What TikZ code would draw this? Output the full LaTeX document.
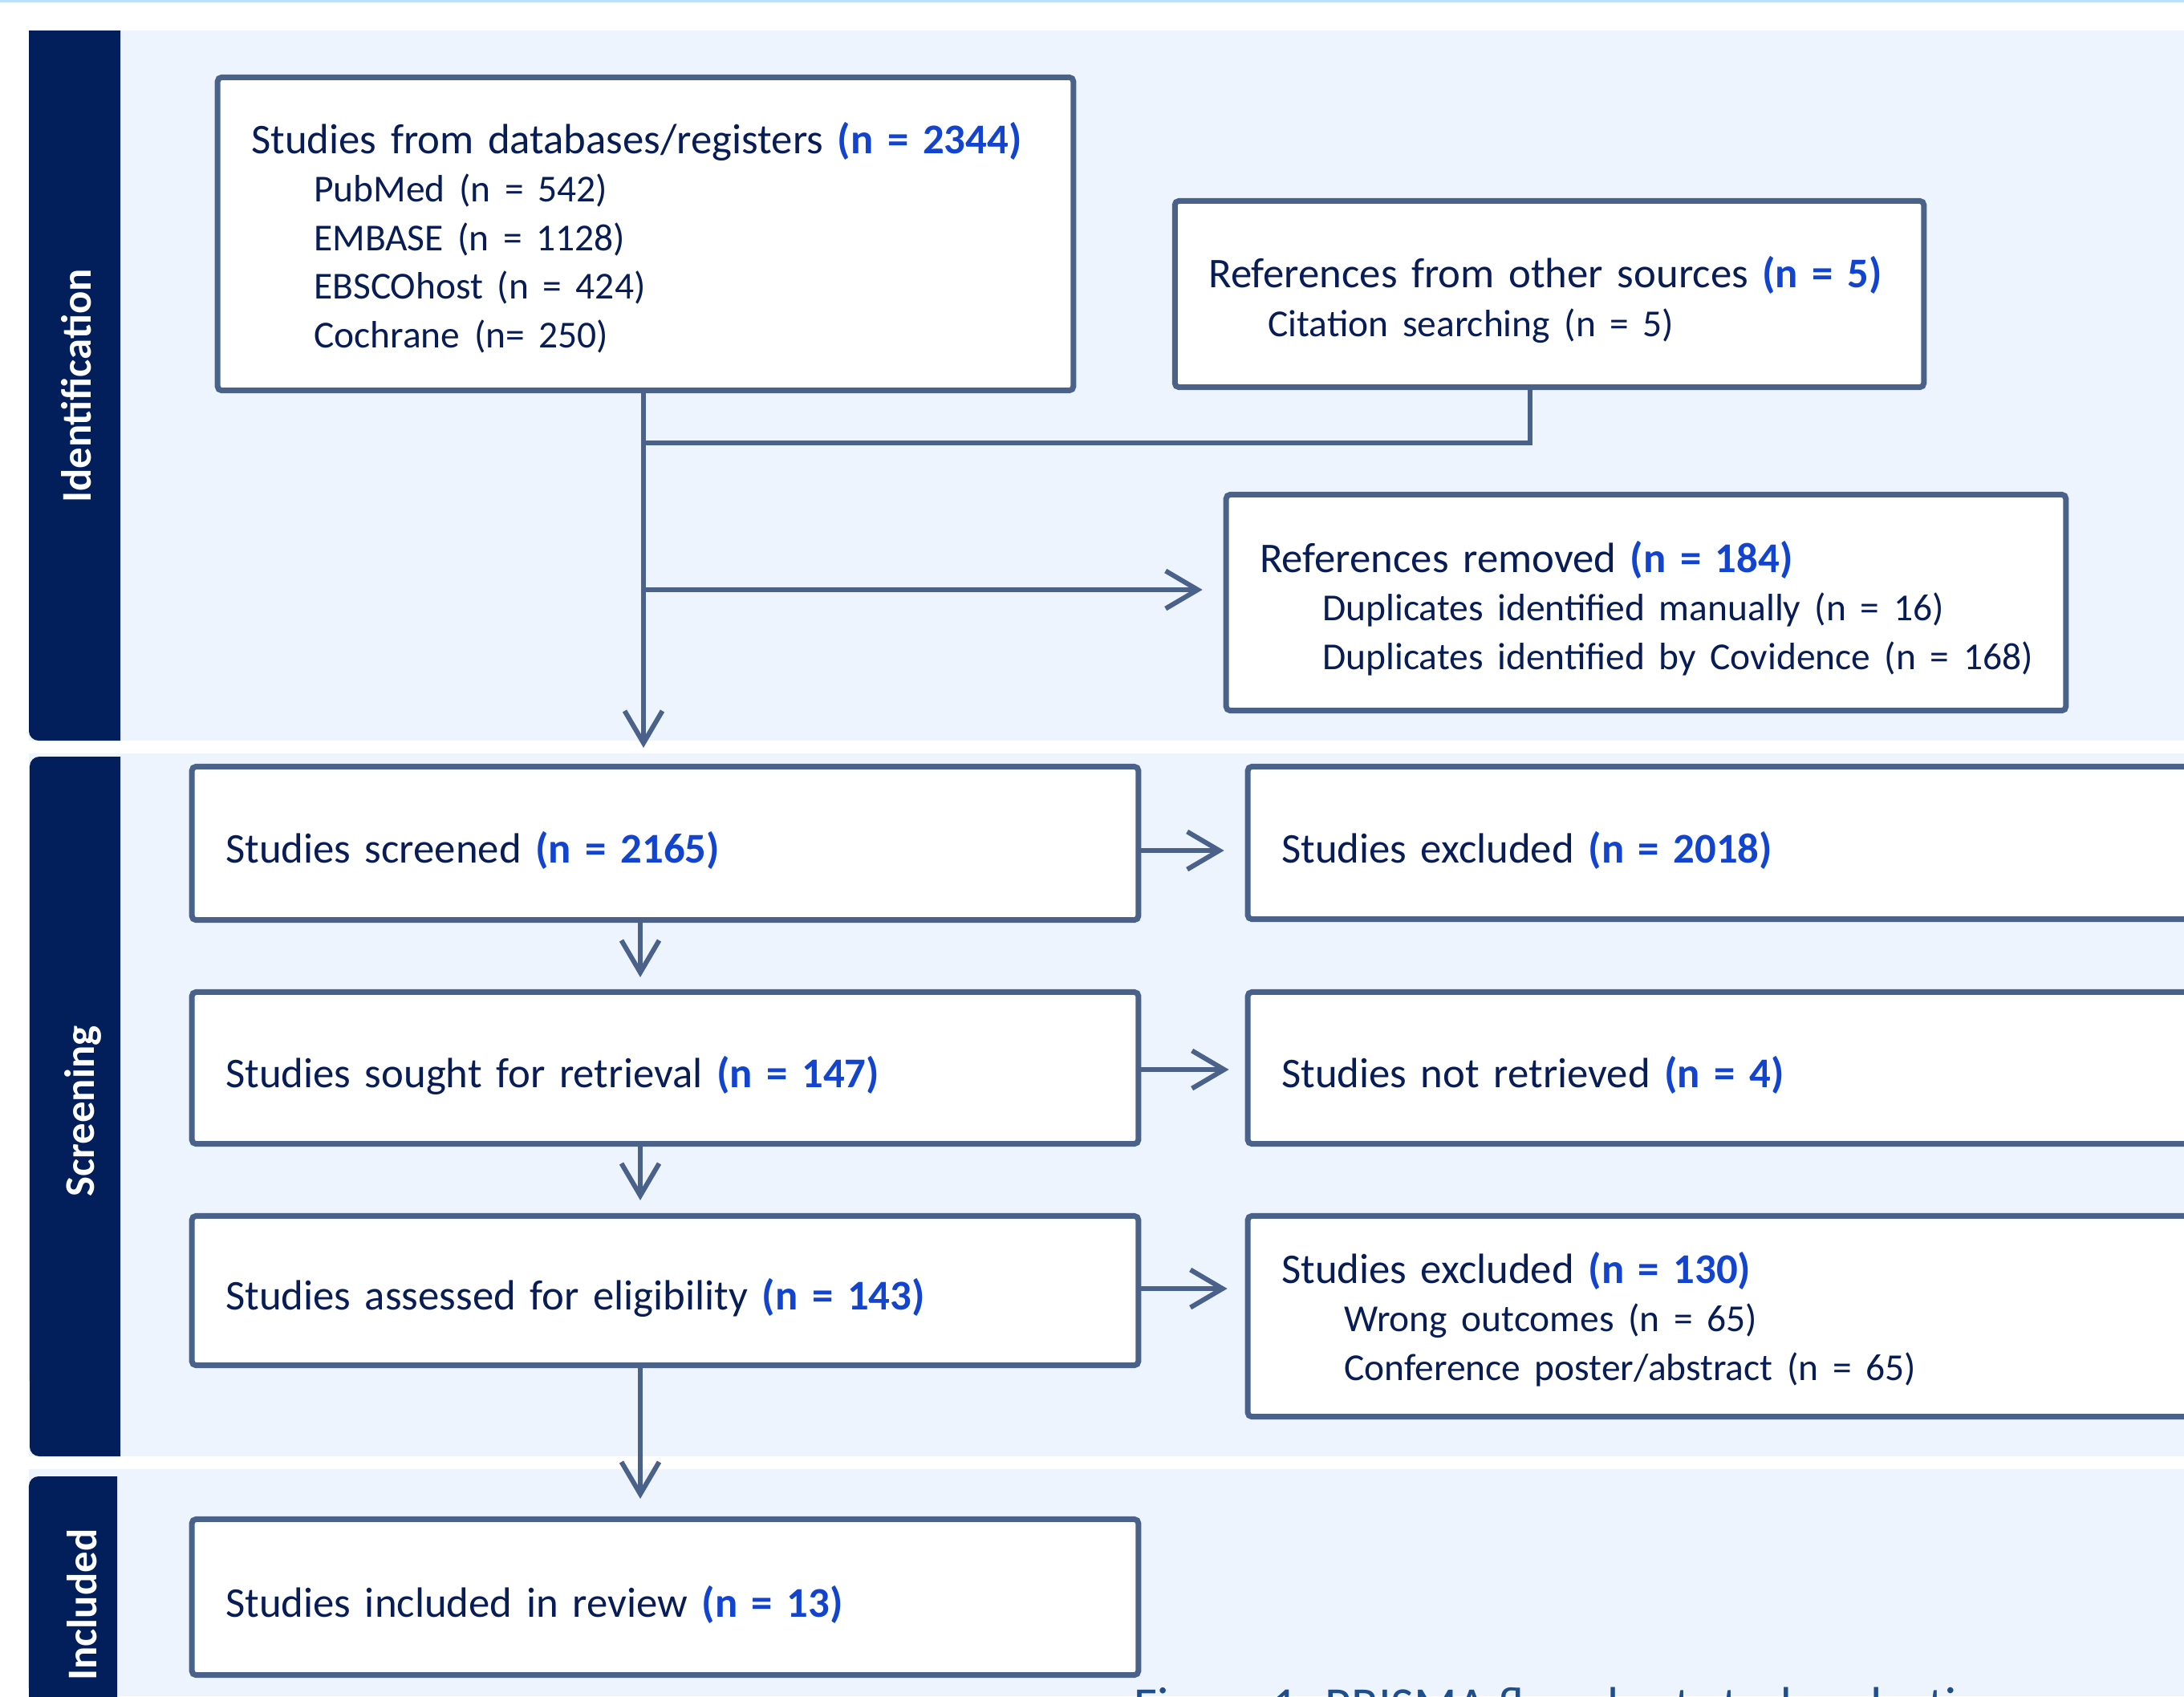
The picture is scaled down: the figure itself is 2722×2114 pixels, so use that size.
\documentclass[tikz,border=0pt]{standalone}
\usepackage{fontspec}
\setmainfont{Carlito}
\usetikzlibrary{arrows.meta}
\definecolor{navyC}{RGB}{2,31,91}
\definecolor{panelC}{RGB}{237,244,254}
\definecolor{lineC}{RGB}{74,98,137}
\definecolor{txtC}{RGB}{8,28,86}
\definecolor{nC}{RGB}{18,68,208}
\definecolor{topC}{RGB}{190,224,250}
\definecolor{capC}{RGB}{31,78,140}
\newcommand\bxfont{\fontsize{15pt}{17.2pt}\selectfont}
\newcommand\subf{\fontsize{13.5pt}{17.2pt}\selectfont}
\newcommand\nval[1]{\textcolor{nC}{\bfseries #1}}
\newcommand\ind{\hspace*{0.78cm}}
\newcommand\subline[1]{\mbox{\ind{\subf #1}}}
\newcommand\tstrut[1]{\rule{0pt}{#1}}
\begin{document}
\begin{tikzpicture}[x=0.01cm,y=-0.01cm,
  box/.style={draw=lineC, line width=0.07cm, fill=white, rounded corners=0.05cm,
    inner xsep=0.42cm, inner ysep=0pt, align=left, font=\bxfont, text=txtC},
  conn/.style={draw=lineC, line width=0.06cm},
  arr/.style={conn, -{Straight Barb[length=0.4cm,width=0.47cm]}},
  side/.style={rotate=90, text=white, font=\bxfont\bfseries, inner sep=0pt, anchor=base}
]
\useasboundingbox (0,0) rectangle (2722,2114);
\clip (0,0) rectangle (2722,2114);
\fill[white] (0,0) rectangle (2722,2114);
\fill[topC] (0,0) rectangle (2722,3);
% panels
\fill[panelC] (36,38) rectangle (2722,923);
\fill[panelC] (36,939) rectangle (2722,1815);
\fill[panelC] (36,1831) rectangle (2722,2114);
% sidebars
\fill[navyC] (150,38) -- (36,38) -- (36,911) arc[start angle=180,end angle=270,radius=0.12cm] -- (150,923) -- cycle;
\fill[navyC] (150,943) -- (49,943) arc[start angle=90,end angle=180,radius=0.12cm] -- (37,1803) arc[start angle=180,end angle=270,radius=0.12cm] -- (150,1815) -- cycle;
\fill[navyC] (146,1840) -- (48,1840) arc[start angle=90,end angle=180,radius=0.12cm] -- (36,2130) -- (146,2130) -- cycle;
\node[side] (L1) at (113,481) {Identification};
\node[side] (L2) at (117,1385) {Screening};
\node[side] (L3) at (120,2000) {Included};
% boxes
\node[box, minimum width=10.66cm, minimum height=3.90cm, text width=9.82cm] (B1) at (804.5,291.5)
  {\mbox{\tstrut{0.48cm}Studies from databases/registers \nval{(n = 2344)}}\\
   \subline{PubMed (n = 542)}\\
   \subline{EMBASE (n = 1128)}\\
   \subline{EBSCOhost (n = 424)}\\
   \subline{Cochrane (n= 250)}};
\node[box, minimum width=9.33cm, minimum height=2.32cm, text width=8.49cm] (B2) at (1931,366.5)
  {\mbox{\tstrut{0.53cm}References from other sources \nval{(n = 5)}}\\
   \mbox{\hspace*{0.74cm}{\subf Citation searching (n = 5)}}};
\node[box, minimum width=10.46cm, minimum height=2.69cm, text width=9.62cm] (B3) at (2051.5,751)
  {\mbox{\tstrut{0.53cm}References removed \nval{(n = 184)}}\\
   \subline{Duplicates identified manually (n = 16)}\\
   \subline{Duplicates identified by Covidence (n = 168)}};
\node[box, minimum width=11.79cm, minimum height=1.91cm, text width=10.95cm] (S1) at (829,1051)
  {\tstrut{0.57cm}Studies screened \nval{(n = 2165)}};
\node[box, minimum width=11.79cm, minimum height=1.89cm, text width=10.95cm] (S2) at (829,1331)
  {\tstrut{0.57cm}Studies sought for retrieval \nval{(n = 147)}};
\node[box, minimum width=11.79cm, minimum height=1.86cm, text width=10.95cm] (S3) at (829,1608.5)
  {\tstrut{0.57cm}Studies assessed for eligibility \nval{(n = 143)}};
\node[box, minimum width=11.79cm, minimum height=1.94cm, text width=10.95cm] (S4) at (829,1990.5)
  {\tstrut{0.57cm}Studies included in review \nval{(n = 13)}};
\node[box, minimum width=13.45cm, minimum height=1.90cm, text width=12.61cm] (E1) at (2228,1050.5)
  {\tstrut{0.57cm}Studies excluded \nval{(n = 2018)}};
\node[box, minimum width=13.45cm, minimum height=1.89cm, text width=12.61cm] (E2) at (2228,1331)
  {\tstrut{0.57cm}Studies not retrieved \nval{(n = 4)}};
\node[box, minimum width=13.45cm, minimum height=2.50cm, text width=12.61cm] (E3) at (2228,1640.5)
  {\tstrut{0.46cm}Studies excluded \nval{(n = 130)}\\
   \subline{Wrong outcomes (n = 65)}\\
   \subline{Conference poster/abstract (n = 65)}};
% connectors
\coordinate (c1) at (802,0);
\coordinate (c2) at (1907,0);
\coordinate (c3) at (798,0);
\coordinate (jn) at (802,552);
\coordinate (jr) at (802,735);
\coordinate (h1) at (0,1060);
\coordinate (h2) at (0,1333);
\coordinate (h3) at (0,1606);
\draw[conn] (B2.south -| c2) |- (jn);
\draw[arr, shorten >=0.2cm] (B1.south -| c1) -- (S1.north -| c1);
\draw[arr, shorten >=0.26cm] (jr) -- (jr -| B3.west);
\draw[arr, shorten >=0.26cm] (S1.east |- h1) -- (E1.west |- h1);
\draw[arr, shorten >=0.2cm] (S2.east |- h2) -- (E2.west |- h2);
\draw[arr, shorten >=0.22cm] (S3.east |- h3) -- (E3.west |- h3);
\draw[arr, shorten >=0.15cm] (S1.south -| c3) -- (S2.north -| c3);
\draw[arr, shorten >=0.16cm] (S2.south -| c3) -- (S3.north -| c3);
\draw[arr, shorten >=0.22cm] (S3.south -| c3) -- (S4.north -| c3);
% caption (cut off by the page edge)
\node[anchor=base west, inner sep=0pt, font=\fontsize{17.8pt}{20pt}\selectfont, text=capC] (cap) at (1413,2146)
  {Figure 1. PRISMA flowchart study selection};
\end{tikzpicture}
\end{document}
